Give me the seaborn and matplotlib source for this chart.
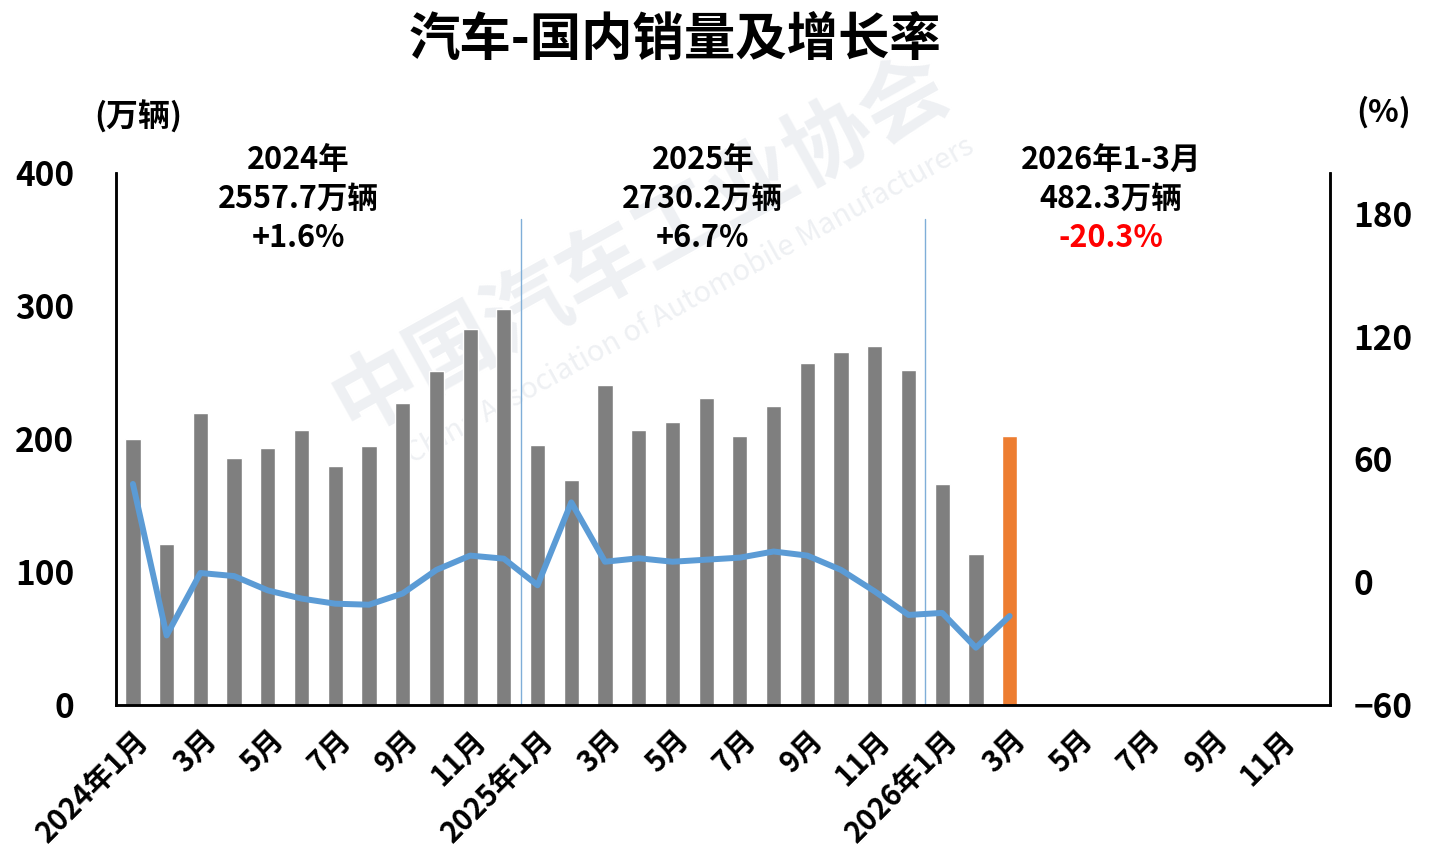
import numpy as np
import pandas as pd
import seaborn as sns
import matplotlib.pyplot as plt
from matplotlib import transforms

# 数据
months = []
for yr in [2024, 2025, 2026]:
    for m in range(1, 13):
        months.append(f"{yr}年{m}月")

tick_labels = []
for yr in [2024, 2025, 2026]:
    for m in range(1, 13):
        if m == 1:
            tick_labels.append(f"{yr}年1月")
        elif m % 2 == 1:
            tick_labels.append(f"{m}月")
        else:
            tick_labels.append("")

sales_2024 = [200.0, 121.0, 219.5, 185.7, 193.0, 206.8, 179.7, 194.7, 227.0, 251.0, 282.7, 297.7]
sales_2025 = [195.5, 169.0, 240.3, 207.0, 213.0, 231.0, 202.0, 224.6, 257.0, 265.4, 269.7, 252.0]
sales_2026 = [166.0, 113.8, 202.5]

growth_2024 = [48.0, -26.0, 4.5, 3.0, -4.0, -8.0, -10.5, -11.0, -5.5, 6.0, 13.0, 11.5]
growth_2025 = [-1.5, 39.0, 10.0, 11.7, 10.0, 11.0, 12.0, 15.0, 13.0, 6.0, -4.5, -16.0]
growth_2026 = [-15.0, -32.0, -16.5]

sales = sales_2024 + sales_2025 + sales_2026
growth = growth_2024 + growth_2025 + growth_2026

year_titles = ["2024年", "2025年", "2026年1-3月"]
year_totals = ["2557.7万辆", "2730.2万辆", "482.3万辆"]
year_pcts = ["+1.6%", "+6.7%", "-20.3%"]
year_centers = [4.9, 16.9, 29.0]

sns.set_theme(style="white")
plt.rcParams['font.family'] = ['Noto Sans CJK SC', 'DejaVu Sans']
plt.rcParams['font.weight'] = 'bold'
plt.rcParams['text.color'] = 'black'
plt.rcParams['xtick.color'] = 'black'
plt.rcParams['ytick.color'] = 'black'

df = pd.DataFrame({"month": months,
                   "sales": sales + [np.nan] * (len(months) - len(sales))})
colors = {mo: "#7F7F7F" for mo in months}
colors[months[len(sales) - 1]] = "#ED7D31"

fig = plt.figure(figsize=(14.4, 8.64), dpi=100)
ax = fig.add_axes([0.0806, 0.184, 0.843, 0.616])

sns.barplot(data=df, x="month", y="sales", hue="month", order=months,
            palette=colors, legend=False, width=0.45, saturation=1, ax=ax)
ax.set_xlim(-0.5, len(months) - 0.5)
ax.set_ylim(0, 400)
ax.set_yticks([0, 100, 200, 300, 400])
ax.set_xticks(range(len(months)))
ax.set_xticklabels(tick_labels, rotation=45, ha="right", rotation_mode="anchor",
                   fontsize=21, fontweight="bold")
ax.tick_params(axis="y", length=0, pad=30, labelsize=24)
ax.tick_params(axis="x", length=0, pad=14)
for lab in ax.get_yticklabels():
    lab.set_fontweight("bold")
ax.set_xlabel("")
ax.set_ylabel("")

# 年份分隔线
for xs in [11.5, 23.5]:
    ax.plot([xs, xs], [0, 365], color="#7FAED8", lw=1, zorder=1)

# 水印
ax.text(0.432, 0.865, "中国汽车工业协会", transform=ax.transAxes, fontsize=62,
        color="#EEF0F3", rotation=29, ha="center", va="center", zorder=0.5, clip_on=False)
ax.text(0.473, 0.76, "China Association of Automobile Manufacturers", transform=ax.transAxes,
        fontsize=21, color="#EEF0F3", rotation=29, ha="center", va="center", zorder=0.5,
        fontweight="normal", clip_on=False)

ax2 = ax.twinx()
gdf = pd.DataFrame({"x": range(len(growth)), "growth": growth})
sns.lineplot(data=gdf, x="x", y="growth", color="#5B9BD5", lw=4.3, ax=ax2,
             solid_joinstyle="round", solid_capstyle="round")
ax2.set_ylim(-60, 200)
ax2.set_yticks([-60, 0, 60, 120, 180])
ax2.tick_params(axis="y", length=0, pad=17, labelsize=24)
for lab in ax2.get_yticklabels():
    lab.set_fontweight("bold")
ax2.set_ylabel("")
ax2.set_xlabel("")

for a in [ax, ax2]:
    a.spines["top"].set_visible(False)
    for s in ["left", "right", "bottom"]:
        a.spines[s].set_visible(True)
        a.spines[s].set_color("black")
        a.spines[s].set_linewidth(1.8)
    a.grid(False)

# 年度汇总
trans = transforms.blended_transform_factory(ax.transData, ax.transAxes)
for xc, t1, t2, pct in zip(year_centers, year_titles, year_totals, year_pcts):
    ax.text(xc, 1.024, t1, transform=trans, ha="center", va="center",
            fontsize=22, fontweight="bold")
    ax.text(xc, 0.951, t2, transform=trans, ha="center", va="center",
            fontsize=22, fontweight="bold")
    ax.text(xc, 0.878, pct, transform=trans, ha="center", va="center",
            fontsize=22, fontweight="bold",
            color="#FF0000" if pct.startswith("-") else "black")

ax.text(0.018, 1.105, "(万辆)", transform=ax.transAxes, ha="center", va="center",
        fontsize=23, fontweight="bold")
ax.text(1.044, 1.113, "(%)", transform=ax.transAxes, ha="center", va="center",
        fontsize=23, fontweight="bold")

fig.text(0.469, 0.954, "汽车-国内销量及增长率", ha="center", va="center",
         fontsize=37, fontweight="bold")

fig.savefig("out.png", dpi=100, facecolor="white")
